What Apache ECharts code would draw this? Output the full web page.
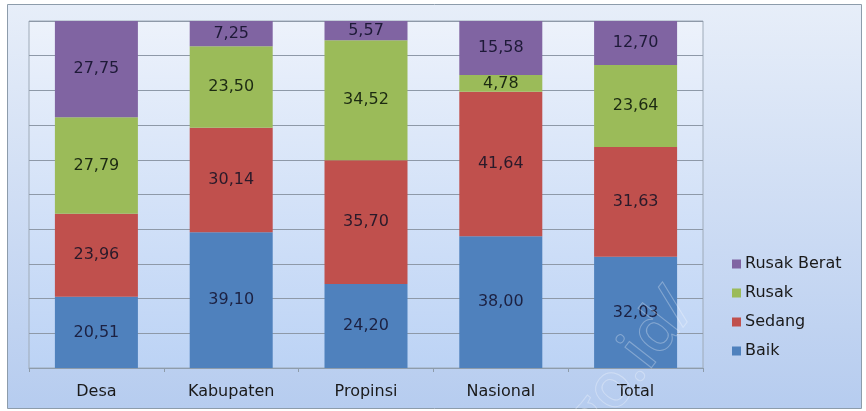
<!DOCTYPE html>
<html>
<head>
<meta charset="utf-8">
<script src="https://cdn.jsdelivr.net/npm/echarts@6/dist/echarts.min.js"></script>
<style>
html,body{margin:0;padding:0;background:#ffffff;}
#c{width:866px;height:411px;}
</style>
</head>
<body>
<div id="c"></div>
<script>
var categories = ['Desa', 'Kabupaten', 'Propinsi', 'Nasional', 'Total'];
var baik = [20.51, 39.10, 24.20, 38.00, 32.03];
var sedang = [23.96, 30.14, 35.70, 41.64, 31.63];
var rusak = [27.79, 23.50, 34.52, 4.78, 23.64];
var rusakBerat = [27.75, 7.25, 5.57, 15.58, 12.70];
var legendOrder = ['Rusak Berat', 'Rusak', 'Sedang', 'Baik'];

var FONT = '"DejaVu Sans", "Noto Sans", sans-serif';
function fmt(p) { return p.value.toFixed(2).replace('.', ','); }
function mk(name, data, color, labelColor) {
  return {
    name: name, type: 'bar', stack: 'all', data: data, barWidth: 83,
    itemStyle: { color: color },
    label: { show: true, position: 'inside', formatter: fmt, color: labelColor,
             fontFamily: FONT, fontSize: 16 },
    emphasis: { disabled: true }
  };
}

var chart = echarts.init(document.getElementById('c'), null, { renderer: 'canvas' });
chart.setOption({
  animation: false,
  backgroundColor: '#ffffff',
  graphic: [
    { type: 'rect', z: -10, silent: true,
      shape: { x: 7.5, y: 4.5, width: 854, height: 404 },
      style: { fill: new echarts.graphic.LinearGradient(0, 0, 0, 1, [
        { offset: 0, color: '#e7eef9' }, { offset: 1, color: '#b6ccef' }]),
        stroke: '#8d9cab', lineWidth: 1 } },
    { type: 'text', z: 100, silent: true, x: 555, y: 412, rotation: Math.PI * 52 / 180,
      style: { text: 'go.id/', font: '600 62px "Open Sans", sans-serif',
               fill: 'rgba(255,255,255,0)', stroke: 'rgba(255,255,255,0.3)', lineWidth: 1 } }
  ],
  grid: {
    left: 29, top: 21, right: 163, bottom: 43, show: true,
    backgroundColor: new echarts.graphic.LinearGradient(0, 0, 0, 1, [
      { offset: 0, color: '#edf2fb' }, { offset: 1, color: '#bcd3f5' }]),
    borderColor: '#9eaab8', borderWidth: 1
  },
  legend: {
    orient: 'vertical', left: 727, top: 251, itemWidth: 9, itemHeight: 9, itemGap: 13,
    icon: 'rect', data: legendOrder,
    textStyle: { fontFamily: FONT, fontSize: 16, color: '#1a1a1a', padding: [0, 0, 0, -1] }
  },
  xAxis: {
    type: 'category', data: categories,
    axisLine: { lineStyle: { color: '#8e9cab', width: 1 } },
    axisTick: { show: true, length: 4, lineStyle: { color: '#8e9cab' } },
    axisLabel: { fontFamily: FONT, fontSize: 16, color: '#1a1a1a', margin: 16 }
  },
  yAxis: {
    type: 'value', min: 0, max: 100, interval: 10,
    axisLabel: { show: false }, axisLine: { show: false }, axisTick: { show: false },
    splitLine: { lineStyle: { color: '#8e99a8', width: 1 } }
  },
  series: [
    mk('Baik', baik, '#4f81bd', '#1c2142'),
    mk('Sedang', sedang, '#c0504d', '#2a1a2a'),
    mk('Rusak', rusak, '#9bbb59', '#1c2a12'),
    mk('Rusak Berat', rusakBerat, '#8064a2', '#1e1a38')
  ]
});
</script>
</body>
</html>
